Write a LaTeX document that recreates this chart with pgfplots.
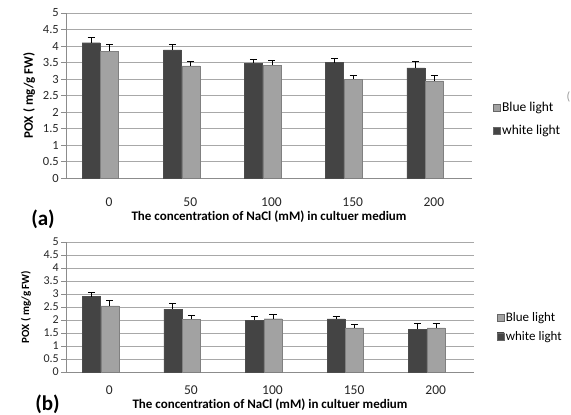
\documentclass[border=0pt]{standalone}
\usepackage{pgfplots}
\pgfplotsset{compat=1.18}
\usepackage{fontspec}
\setmainfont{Carlito}[Ligatures=NoCommon]

\definecolor{gridgray}{HTML}{A8A8A8}
\definecolor{axisgray}{HTML}{8C8C8C}
\definecolor{darkA}{HTML}{444444}
\definecolor{darkB}{HTML}{6A6A6A}
\definecolor{lightA}{HTML}{A2A2A2}
\definecolor{lightB}{HTML}{D4D4D4}

\pgfplotsset{
  poxpanel/.style={
    scale only axis,
    ybar, bar width=18bp,
    xmin=-0.5, xmax=4.5,
    ymin=0, ymax=5,
    ytick={0,0.5,...,5},
    xtick={0,1,2,3,4},
    xticklabels={0,50,100,150,200},
    axis x line*=bottom,
    axis y line*=left,
    axis line style={axisgray, line width=0.8bp},
    ymajorgrids,
    grid style={gridgray, line width=0.9bp},
    major x tick style={draw=none},
    major y tick style={axisgray, line width=0.8bp},
    major tick length=5bp,
    tick align=outside,
    /pgf/number format/assume math mode=true,
    /pgf/number format/.cd, use period, 1000 sep={},
    /pgfplots/.cd,
    yticklabel style={anchor=east, font=\fontsize{12.5bp}{13bp}\selectfont, text=black!85, inner sep=2bp},
    xticklabel style={anchor=base, inner sep=0pt, xshift=2.5bp, font=\fontsize{13.5bp}{14bp}\selectfont, text=black!85},
    xlabel style={at={(rel axis cs:0.5,0)}, anchor=base, inner sep=0pt, font=\bfseries\fontsize{13bp}{14bp}\selectfont},
    ylabel style={anchor=center},
    legend style={draw=none, fill=none, inner sep=0pt, anchor=west,
      font=\fontsize{13.5bp}{14bp}\selectfont, cells={anchor=west},
      nodes={inner sep=1.5bp}},
    legend image code/.code={\draw[##1, draw=black!60, line width=0.3bp] (0bp,-3.5bp) rectangle (7bp,3.5bp);},
    reverse legend,
    error bars/y dir=plus, error bars/y explicit,
    error bars/error bar style={black, line width=0.9bp},
    error bars/error mark options={rotate=90, mark size=3.5bp, line width=0.9bp, black},
  },
  whitebar/.style={draw=black!70, line width=0.4bp, left color=darkA, middle color=darkB, right color=darkA, bar shift=-15.5bp},
  bluebar/.style={draw=black!50, line width=0.4bp, left color=lightA, middle color=lightB, right color=lightA, bar shift=3bp},
}

\begin{document}
\begin{tikzpicture}
\useasboundingbox (0,0) rectangle (571bp,-415bp);

% panel (a)
\begin{axis}[poxpanel,
  at={(66bp,-178bp)}, anchor=south west,
  width=406bp, height=165bp,
  xticklabel style={yshift=-23bp},
  xlabel={The concentration of NaCl (mM) in cultuer medium},
  xlabel style={yshift=-42bp},
  ylabel={POX ( mg/g FW)},
  ylabel style={at={(axis description cs:-0.091,0.5)}, font=\bfseries\fontsize{13bp}{14bp}\selectfont},
  legend style={at={(rel axis cs:1.052,0.355)}, row sep=9bp},
]
\addplot[whitebar] coordinates {
  (0,4.10) +- (0,0.17)
  (1,3.88) +- (0,0.18)
  (2,3.48) +- (0,0.12)
  (3,3.50) +- (0,0.11)
  (4,3.34) +- (0,0.18)
};
\addplot[bluebar] coordinates {
  (0,3.84) +- (0,0.22)
  (1,3.40) +- (0,0.13)
  (2,3.42) +- (0,0.14)
  (3,3.00) +- (0,0.12)
  (4,2.94) +- (0,0.16)
};
\legend{white light, Blue light}
\end{axis}

% panel (b)
\begin{axis}[poxpanel,
  at={(66bp,-372bp)}, anchor=south west,
  width=408bp, height=130bp,
  yticklabel style={font=\fontsize{12bp}{13bp}\selectfont},
  xticklabel style={yshift=-17.5bp},
  xlabel={The concentration of NaCl (mM) in cultuer medium},
  xlabel style={yshift=-36bp},
  ylabel={POX ( mg/g FW)},
  ylabel style={at={(axis description cs:-0.098,0.5)}, font=\bfseries\fontsize{11bp}{12bp}\selectfont},
  legend style={at={(rel axis cs:1.056,0.346)}, row sep=5bp, font=\fontsize{13bp}{14bp}\selectfont},
]
\addplot[whitebar] coordinates {
  (0,2.90) +- (0,0.15)
  (1,2.42) +- (0,0.20)
  (2,2.00) +- (0,0.12)
  (3,2.04) +- (0,0.08)
  (4,1.65) +- (0,0.20)
};
\addplot[bluebar] coordinates {
  (0,2.54) +- (0,0.23)
  (1,2.02) +- (0,0.15)
  (2,2.05) +- (0,0.15)
  (3,1.70) +- (0,0.11)
  (4,1.70) +- (0,0.15)
};
\legend{white light, Blue light}
\end{axis}

% panel tags
\node[font=\bfseries\fontsize{21bp}{22bp}\selectfont] at (43bp,-219bp) {(a)};
\node[font=\bfseries\fontsize{21bp}{22bp}\selectfont] at (47.5bp,-404bp) {(b)};
\node[text=black!40, font=\fontsize{12bp}{13bp}\selectfont, anchor=west] at (563bp,-97bp) {(};
\end{tikzpicture}
\end{document}
